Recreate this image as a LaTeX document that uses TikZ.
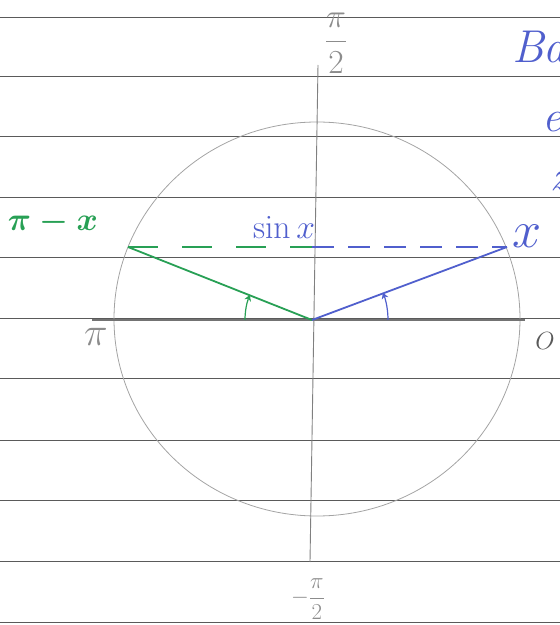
\documentclass[tikz,border=0pt]{standalone}
\usepackage{amsmath}
\usetikzlibrary{arrows.meta}
\definecolor{ruled}{RGB}{90,90,90}
\definecolor{pencil}{RGB}{140,140,140}
\definecolor{gpen}{RGB}{40,160,85}
\definecolor{bpen}{RGB}{80,95,205}
\tikzset{
  rule/.style={ruled, line width=0.9pt},
  circ/.style={pencil!80, line width=0.8pt},
  axisx/.style={black!55, line width=2.2pt},
  axisy/.style={black!50, line width=0.9pt},
  gline/.style={gpen, line width=1.8pt},
  bline/.style={bpen, line width=1.8pt},
  gdash/.style={gpen, line width=1.5pt, dash pattern=on 30pt off 24pt},
  bdash/.style={bpen, line width=1.5pt, dash pattern=on 22pt off 14pt},
  lbl/.style={inner sep=0pt, font=\fontsize{24.88}{26}\selectfont},
}
\begin{document}
\begin{tikzpicture}[x=1pt,y=1pt]
\useasboundingbox (0,0) rectangle (560,625);
\begin{scope}
\clip (0,0) rectangle (560,625);
% ruled lines
\foreach \yy in {608,549,489,428,368,307,247,185,125,64,3}
  \draw[rule] (0,\yy) -- (560,\yy);
% circle
\draw[circ] (317,306) ellipse [x radius=203, y radius=197];
% axes
\coordinate (xl) at (92,305);
\coordinate (xr) at (525,305);
\coordinate (yt) at (318,560);
\coordinate (yb) at (310,63);
\draw[axisx] (xl) -- (xr);
\draw[axisy] (yt) -- (yb);
% center and points
\coordinate (O) at (312,305);
\coordinate (P) at (507,378);
\coordinate (Q) at (128,378);
\coordinate (S) at (312,378);
\draw[gdash] (Q) -- (S);
\draw[bdash] (S) -- (P);
\draw[gline] (Q) -- (O);
\draw[bline] (O) -- (P);
% angle arcs
\draw[gpen, line width=1.2pt, -{Stealth[length=6pt,width=7pt]}] ([shift={(180:67)}]O) arc [start angle=180, end angle=158, radius=67];
\draw[bpen, line width=1.2pt, -{Stealth[length=6pt,width=7pt]}] ([shift={(0:76)}]O) arc [start angle=0, end angle=21, radius=76];
% labels
\node[lbl, text=pencil, scale=1.35] (lhalf) at (336,582) {$\dfrac{\pi}{2}$};
\node[lbl, text=pencil, font=\fontsize{20.74}{22}\selectfont, scale=1.1] (lmhalf) at (308,26) {$-\dfrac{\pi}{2}$};
\node[lbl, text=pencil, scale=1.6] (lpi) at (96,288) {$\pi$};
\node[lbl, text=black!65] (lO) at (545,284) {$O$};
\node[lbl, text=gpen, scale=1.3] (lpix) at (53,403) {$\boldsymbol{\pi - x}$};
\node[lbl, text=bpen, scale=1.35] (lsin) at (284,398) {$\sin x$};
\node[lbl, text=bpen, scale=2.1] (lx) at (527,389) {$x$};
\node[lbl, text=bpen, anchor=west, font=\fontsize{46}{48}\itshape] (t1) at (512,578) {Ba};
\node[lbl, text=bpen, anchor=west, font=\fontsize{44}{46}\itshape] (t2) at (542,503) {e};
\node[lbl, text=bpen, anchor=west, font=\fontsize{42}{44}\itshape] (t3) at (550,444) {z};
\end{scope}
\end{tikzpicture}
\end{document}
